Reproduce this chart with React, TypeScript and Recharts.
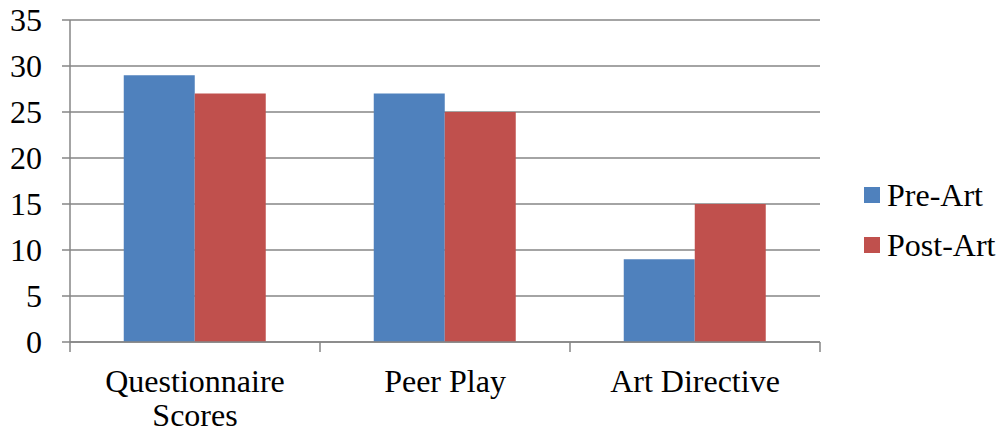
import React from 'react';
import {BarChart, Bar, XAxis, YAxis, CartesianGrid} from 'recharts';

const categories = ['Questionnaire Scores', 'Peer Play', 'Art Directive'];
const preArt = [29, 27, 9];
const postArt = [27, 25, 15];
const yTicks = [0, 5, 10, 15, 20, 25, 30, 35];

const series = [
  {key: 'pre', name: 'Pre-Art', color: '#4F81BD', values: preArt},
  {key: 'post', name: 'Post-Art', color: '#C0504D', values: postArt},
];

const data = categories.map((name, i) => ({
  name,
  pre: preArt[i],
  post: postArt[i],
}));

const FONT = '"Liberation Serif", "Times New Roman", serif';
const FONT_SIZE = 32;
const AXIS_GRAY = '#868686';

// simple word wrap by character count, good enough for short labels
const wrapLabel = (label: string, maxChars = 14) => {
  const lines: string[] = [];
  let cur = '';
  label.split(' ').forEach((w) => {
    const next = cur ? `${cur} ${w}` : w;
    if (next.length > maxChars && cur) {
      lines.push(cur);
      cur = w;
    } else {
      cur = next;
    }
  });
  if (cur) lines.push(cur);
  return lines;
};

// category label centred under the group, with boundary tick marks between groups
const CategoryTick = (props: any) => {
  const {x, y, payload, index} = props;
  const half = payload?.offset ?? 125;
  const last = index === categories.length - 1;
  const lines = wrapLabel(String(payload.value));
  return (
    <g>
      <line x1={x - half} x2={x - half} y1={y - 8} y2={y + 2} stroke={AXIS_GRAY} strokeWidth={1.5} />
      {last && <line x1={x + half} x2={x + half} y1={y - 8} y2={y + 2} stroke={AXIS_GRAY} strokeWidth={1.5} />}
      <text x={x} y={y + 42} textAnchor="middle" fontFamily={FONT} fontSize={FONT_SIZE} fill="#000">
        {lines.map((ln, i) => (
          <tspan key={i} x={x} dy={i === 0 ? 0 : 34}>
            {ln}
          </tspan>
        ))}
      </text>
    </g>
  );
};

export default function App() {
  return (
    <div style={{position: 'absolute', left: 0, top: 0, width: 1001, height: 432, background: '#fff'}}>
      <BarChart
        width={1001}
        height={432}
        data={data}
        margin={{top: 20, right: 181, bottom: 0, left: 0}}
        barGap={0}
        barCategoryGap="21.5%">
        <CartesianGrid vertical={false} stroke={AXIS_GRAY} strokeWidth={1.5} />
        <XAxis
          dataKey="name"
          height={90}
          axisLine={{stroke: AXIS_GRAY, strokeWidth: 1.5}}
          tickLine={false}
          interval={0}
          tick={<CategoryTick />}
        />
        <YAxis
          width={70}
          domain={[0, 35]}
          ticks={yTicks}
          interval={0}
          axisLine={{stroke: AXIS_GRAY, strokeWidth: 1.5}}
          tickLine={{stroke: AXIS_GRAY, strokeWidth: 1.5}}
          tickSize={8}
          tickMargin={20}
          tick={{fontFamily: FONT, fontSize: FONT_SIZE, fill: '#000'}}
        />
        {series.map((s) => (
          <Bar key={s.key} dataKey={s.key} name={s.name} fill={s.color} isAnimationActive={false} />
        ))}
      </BarChart>
      <div style={{position: 'absolute', left: 864, top: 170, fontFamily: FONT, fontSize: FONT_SIZE, color: '#000'}}>
        {series.map((s) => (
          <div key={s.key} style={{display: 'flex', alignItems: 'center', height: 50}}>
            <span style={{display: 'inline-block', width: 16, height: 16, background: s.color, marginRight: 7}} />
            <span>{s.name}</span>
          </div>
        ))}
      </div>
    </div>
  );
}
